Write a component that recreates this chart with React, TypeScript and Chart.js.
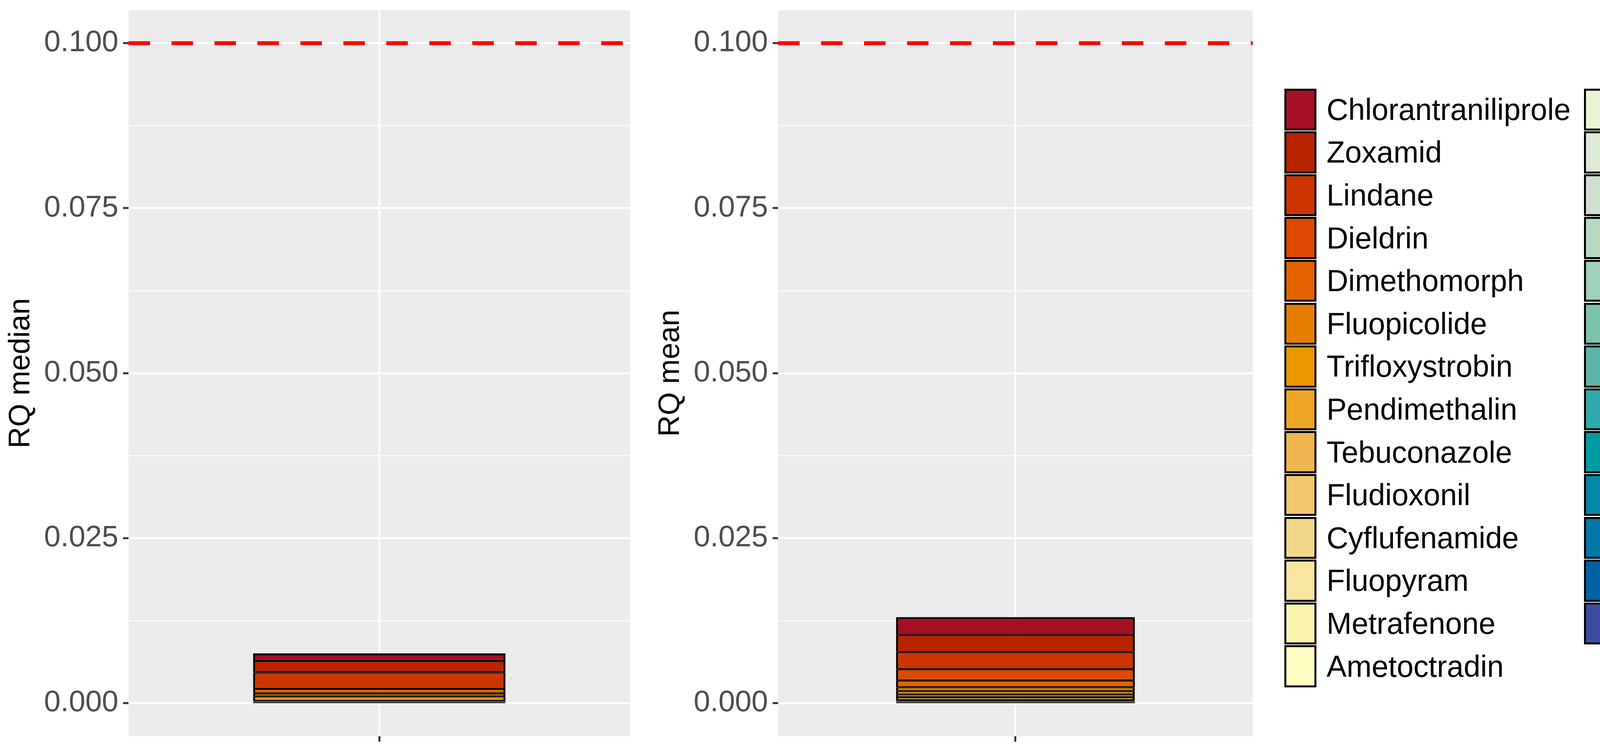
import { useEffect, useRef } from 'react'
import { Chart, registerables } from 'chart.js'

Chart.register(...registerables)

// legend order = stacking order from top to bottom
const compounds = [
  'Chlorantraniliprole',
  'Zoxamid',
  'Lindane',
  'Dieldrin',
  'Dimethomorph',
  'Fluopicolide',
  'Trifloxystrobin',
  'Pendimethalin',
  'Tebuconazole',
  'Fludioxonil',
  'Cyflufenamide',
  'Fluopyram',
  'Metrafenone',
  'Ametoctradin',
  'Terbuthylazine',
  'Glyphosate',
  'Diuron',
  'Azoxystrobin',
  'Terbuthylazine-Desethyl',
  'Fenbuconazole',
  'Myclobutanil',
  'Pyrimethanil',
  'Trifloxystrobin CGA 321113',
  'Tetraconazole',
  'Bentazone',
  'Oxadixyl',
  'Iprovalicarb',
]

const compoundColors = [
  '#A50F24', '#B82300', '#CC3500', '#DB4A00', '#E26300', '#E67C00', '#EA9600',
  '#EDA523', '#F0B64F', '#F1C86E', '#F3D68A', '#F7E5A0', '#FAF2B1', '#FDFCC2',
  '#EBF5D3', '#DDEAD8', '#CFE0D0', '#B7D8C0', '#9ED0BA', '#7DC2AD', '#5DB3A8',
  '#2FA8AA', '#009AA5', '#0089A6', '#0077A6', '#0062A3', '#3A4DA0',
]

const rqMedian = [
  0.00113, 0.00174, 0.00251, 0, 0.0007, 0.00044, 0.00066,
  0.00012, 0.00008, 0.00005, 0.00003, 0.00002, 0.00002, 0.00001,
  0.00001, 0.00001, 0.00001, 0.00001, 0, 0, 0,
  0, 0, 0, 0, 0, 0,
]

const rqMean = [
  0.0027, 0.0026, 0.0026, 0.00172, 0.001, 0.00059, 0.00051,
  0.00041, 0.00043, 0.0001, 0.00007, 0.00006, 0.00005, 0.00004,
  0.00003, 0.00002, 0.00002, 0.00002, 0.00001, 0.00001, 0.00001,
  0.00001, 0.00001, 0.00001, 0.000005, 0.000005, 0.000005,
]

const xLabels = ['']
const yMajorTicks = [0, 0.025, 0.05, 0.075, 0.1]
const yMinorTicks = [0.0125, 0.0375, 0.0625, 0.0875]
const rqThreshold = 0.1
const dateLabel = '12/09/2025'

const FONT = '"Liberation Sans", Arial, Helvetica, sans-serif'

const isMajor = (v: number) => yMajorTicks.some((m) => Math.abs(m - v) < 1e-9)

const panelBackground = {
  id: 'panelBackground',
  beforeDraw(chart: any) {
    const { ctx, chartArea } = chart
    ctx.save()
    ctx.fillStyle = '#EBEBEB'
    ctx.fillRect(chartArea.left, chartArea.top, chartArea.width, chartArea.height)
    ctx.restore()
  },
}

const thresholdLine = {
  id: 'thresholdLine',
  afterDatasetsDraw(chart: any) {
    const { ctx, chartArea, scales } = chart
    const y = scales.y.getPixelForValue(rqThreshold)
    ctx.save()
    ctx.strokeStyle = '#FF0000'
    ctx.lineWidth = 10
    ctx.lineCap = 'butt'
    ctx.setLineDash([55, 55])
    ctx.beginPath()
    ctx.moveTo(chartArea.left, y)
    ctx.lineTo(chartArea.right, y)
    ctx.stroke()
    ctx.restore()
  },
}

interface PanelProps {
  values: number[]
  yTitle: string
  left: number
  width: number
}

const StackedPanel = ({ values, yTitle, left, width }: PanelProps) => {
  const canvasRef = useRef<HTMLCanvasElement | null>(null)
  const chartRef = useRef<Chart | null>(null)

  useEffect(() => {
    const ctx = canvasRef.current?.getContext('2d')
    if (!ctx) return
    if (chartRef.current) chartRef.current.destroy()

    // Chart.js stacks the first dataset at the bottom, ggplot the first level on top
    const order = compounds.map((_, i) => i).reverse()

    chartRef.current = new Chart(ctx, {
      type: 'bar',
      data: {
        labels: xLabels,
        datasets: order.map((i) => ({
          label: compounds[i],
          data: [values[i]],
          backgroundColor: compoundColors[i],
          borderColor: '#000000',
          borderWidth: { left: 5, right: 5, top: i === 0 ? 5 : 2.6, bottom: 2.6 },
          borderSkipped: false,
          categoryPercentage: 1,
          barPercentage: 0.503,
        })),
      },
      options: {
        animation: false,
        responsive: false,
        maintainAspectRatio: false,
        devicePixelRatio: 1,
        layout: {
          autoPadding: false,
          padding: { top: 26, right: width - 329 - (left === 0 ? 1284 : 1215), left: 0, bottom: 0 },
        },
        plugins: {
          legend: { display: false },
          tooltip: { enabled: false },
        },
        scales: {
          x: {
            stacked: true,
            offset: true,
            border: { display: false },
            grid: {
              offset: false,
              color: '#FFFFFF',
              lineWidth: 4.5,
              tickLength: 14,
              tickWidth: 5,
              tickColor: '#333333',
            },
            ticks: { padding: 0, font: { family: FONT, size: 10 } },
            afterFit: (scale: any) => {
              scale.height = 25
              scale.paddingLeft = 0
              scale.paddingRight = 0
            },
          },
          y: {
            stacked: true,
            min: -0.005,
            max: 0.105,
            border: { display: false },
            afterBuildTicks: (scale: any) => {
              scale.ticks = [...yMajorTicks, ...yMinorTicks]
                .sort((a, b) => a - b)
                .map((v) => ({ value: v }))
            },
            grid: {
              color: '#FFFFFF',
              lineWidth: (c: any) => (c.tick && isMajor(c.tick.value) ? 4.5 : 2.2),
              tickLength: 14,
              tickWidth: 5,
              tickColor: (c: any) => (c.tick && isMajor(c.tick.value) ? '#333333' : 'rgba(0,0,0,0)'),
            },
            ticks: {
              autoSkip: false,
              padding: 12,
              color: '#4D4D4D',
              font: { family: FONT, size: 76 },
              callback: (v: any) => (isMajor(Number(v)) ? Number(v).toFixed(3) : ''),
            },
            title: {
              display: true,
              text: yTitle,
              color: '#000000',
              font: { family: FONT, size: 76 },
              padding: { top: 8, bottom: 0 },
            },
            afterFit: (scale: any) => {
              scale.width = 329
              scale.paddingTop = 0
              scale.paddingBottom = 0
            },
          },
        },
      },
      plugins: [panelBackground, thresholdLine],
    } as any)

    return () => {
      if (chartRef.current) {
        chartRef.current.destroy()
        chartRef.current = null
      }
    }
  }, [values, yTitle, left, width])

  return (
    <canvas
      ref={canvasRef}
      width={width}
      height={1909}
      style={{ position: 'absolute', left, top: 0, width, height: 1909, display: 'block' }}
    />
  )
}

const legendTop = 225.5
const legendRow = 109.6
const legendColX = [3288, 4055]
const legendPerCol = 14

const App = () => {
  return (
    <div
      style={{
        position: 'absolute',
        left: 0,
        top: 0,
        width: 5148,
        height: 1909,
        background: '#FFFFFF',
        overflow: 'hidden',
        fontFamily: FONT,
      }}
    >
      <StackedPanel values={rqMedian} yTitle="RQ median" left={0} width={1663} />
      <StackedPanel values={rqMean} yTitle="RQ mean" left={1663} width={1587} />

      {compounds.map((name, i) => {
        const col = i < legendPerCol ? 0 : 1
        const row = i < legendPerCol ? i : i - legendPerCol
        const top = legendTop + row * legendRow
        return (
          <div key={name}>
            <div
              style={{
                position: 'absolute',
                left: legendColX[col],
                top: top + 1,
                width: 82,
                height: legendRow - 2,
                boxSizing: 'border-box',
                border: '5px solid #000000',
                background: compoundColors[i],
              }}
            />
            <div
              style={{
                position: 'absolute',
                left: legendColX[col] + 108,
                top,
                height: legendRow,
                display: 'flex',
                alignItems: 'center',
                fontSize: 77,
                lineHeight: 1,
                color: '#000000',
                whiteSpace: 'nowrap',
              }}
            >
              {name}
            </div>
          </div>
        )
      })}

      <div
        style={{
          position: 'absolute',
          left: 4773,
          top: 1821,
          fontSize: 48,
          lineHeight: '48px',
          color: '#000000',
          whiteSpace: 'nowrap',
        }}
      >
        {dateLabel}
      </div>
    </div>
  )
}

export default App
